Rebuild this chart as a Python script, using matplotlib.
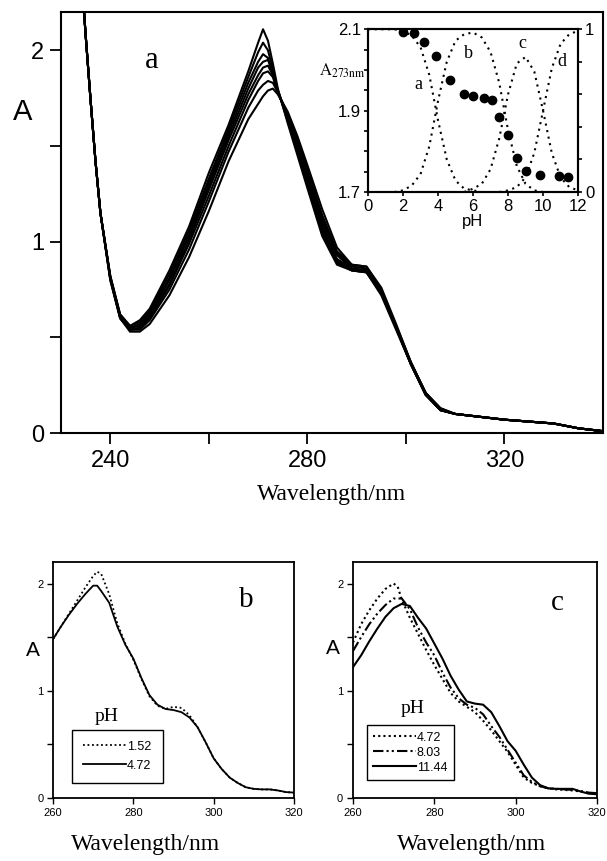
import matplotlib.pyplot as plt

plt.rcParams['font.family'] = 'Liberation Sans'
plt.rcParams['mathtext.fontset'] = 'stix'
SERIF = 'Liberation Serif'

# ---- panel a: spectra over the pH titration ----
wl_a = [233, 234, 235, 236, 237, 238, 240, 242, 244, 246, 248, 252, 256, 260, 264, 268,
        270, 271, 272, 273, 274, 276, 278, 280, 283, 286, 289, 292, 295, 298, 301, 304,
        307, 310, 315, 320, 325, 330, 335, 340]
spec_1 = [2.75, 2.45, 2.08, 1.74, 1.42, 1.15, 0.82, 0.62, 0.56, 0.59, 0.65, 0.85, 1.08, 1.36, 1.61, 1.89,
          2.04, 2.11, 2.05, 1.93, 1.80, 1.62, 1.45, 1.28, 1.03, 0.88, 0.85, 0.84, 0.72, 0.54, 0.36, 0.20,
          0.12, 0.10, 0.085, 0.07, 0.06, 0.05, 0.025, 0.01]
spec_2 = [2.75, 2.45, 2.08, 1.74, 1.42, 1.15, 0.82, 0.62, 0.56, 0.58, 0.64, 0.83, 1.06, 1.33, 1.59, 1.86,
          1.99, 2.04, 2.00, 1.90, 1.79, 1.63, 1.47, 1.30, 1.05, 0.89, 0.85, 0.84, 0.73, 0.55, 0.36, 0.20,
          0.12, 0.10, 0.085, 0.07, 0.06, 0.05, 0.025, 0.01]
spec_3 = [2.75, 2.45, 2.08, 1.74, 1.42, 1.15, 0.82, 0.61, 0.55, 0.57, 0.63, 0.81, 1.04, 1.31, 1.57, 1.83,
          1.94, 1.98, 1.96, 1.88, 1.79, 1.64, 1.48, 1.32, 1.07, 0.90, 0.85, 0.84, 0.73, 0.55, 0.36, 0.20,
          0.12, 0.10, 0.085, 0.07, 0.06, 0.05, 0.025, 0.01]
spec_4 = [2.75, 2.45, 2.08, 1.74, 1.42, 1.15, 0.81, 0.61, 0.55, 0.56, 0.62, 0.80, 1.03, 1.29, 1.55, 1.80,
          1.91, 1.94, 1.95, 1.88, 1.79, 1.65, 1.49, 1.33, 1.08, 0.91, 0.86, 0.85, 0.74, 0.55, 0.36, 0.20,
          0.12, 0.10, 0.085, 0.07, 0.06, 0.05, 0.025, 0.01]
spec_5 = [2.75, 2.45, 2.08, 1.74, 1.42, 1.15, 0.81, 0.61, 0.54, 0.55, 0.61, 0.78, 1.01, 1.27, 1.53, 1.77,
          1.87, 1.91, 1.92, 1.87, 1.78, 1.66, 1.51, 1.35, 1.10, 0.93, 0.86, 0.85, 0.74, 0.56, 0.36, 0.21,
          0.12, 0.10, 0.085, 0.07, 0.06, 0.05, 0.025, 0.01]
spec_6 = [2.75, 2.45, 2.08, 1.74, 1.42, 1.15, 0.81, 0.60, 0.54, 0.55, 0.60, 0.77, 0.99, 1.24, 1.50, 1.74,
          1.84, 1.88, 1.89, 1.86, 1.78, 1.66, 1.52, 1.36, 1.12, 0.94, 0.87, 0.86, 0.75, 0.56, 0.37, 0.21,
          0.12, 0.10, 0.085, 0.07, 0.06, 0.05, 0.025, 0.01]
spec_7 = [2.75, 2.45, 2.08, 1.74, 1.42, 1.15, 0.80, 0.60, 0.54, 0.54, 0.59, 0.75, 0.96, 1.21, 1.47, 1.70,
          1.79, 1.82, 1.84, 1.83, 1.78, 1.67, 1.54, 1.38, 1.14, 0.95, 0.88, 0.87, 0.75, 0.56, 0.37, 0.21,
          0.13, 0.10, 0.085, 0.07, 0.06, 0.05, 0.025, 0.01]
spec_8 = [2.75, 2.45, 2.08, 1.74, 1.42, 1.15, 0.80, 0.60, 0.53, 0.53, 0.57, 0.72, 0.92, 1.16, 1.42, 1.64,
          1.72, 1.76, 1.79, 1.80, 1.77, 1.68, 1.55, 1.40, 1.17, 0.97, 0.88, 0.87, 0.76, 0.57, 0.37, 0.21,
          0.13, 0.10, 0.085, 0.07, 0.06, 0.05, 0.025, 0.01]

# ---- inset: A273 vs pH and species fractions ----
ph_pts = [2.0, 2.6, 3.2, 3.9, 4.7, 5.5, 6.0, 6.6, 7.1, 7.5, 8.0, 8.5, 9.0, 9.8, 10.9, 11.4]
a273 = [2.093, 2.092, 2.069, 2.034, 1.975, 1.942, 1.936, 1.931, 1.926, 1.885, 1.840, 1.783,
        1.752, 1.743, 1.739, 1.736]

ph_a = [0, 0.5, 1, 1.5, 2, 2.5, 3, 3.5, 4, 4.5, 5, 5.5, 6, 6.5]
frac_a = [1.0, 1.0, 1.0, 1.0, 0.99, 0.96, 0.89, 0.72, 0.44, 0.20, 0.07, 0.02, 0.01, 0.0]
ph_b = [1.5, 2, 2.5, 3, 3.5, 4, 4.5, 5, 5.5, 6, 6.5, 7, 7.5, 8, 8.5, 9, 9.5, 10]
frac_b = [0.0, 0.01, 0.04, 0.11, 0.28, 0.56, 0.80, 0.93, 0.97, 0.98, 0.95, 0.86, 0.67, 0.38,
          0.16, 0.05, 0.01, 0.0]
ph_c = [5.5, 6, 6.5, 7, 7.5, 8, 8.5, 9, 9.5, 10, 10.5, 11, 11.5, 12]
frac_c = [0.0, 0.02, 0.05, 0.14, 0.33, 0.60, 0.79, 0.83, 0.74, 0.50, 0.24, 0.09, 0.03, 0.01]
ph_d = [7.5, 8, 8.5, 9, 9.5, 10, 10.5, 11, 11.5, 12]
frac_d = [0.0, 0.01, 0.03, 0.09, 0.24, 0.50, 0.76, 0.91, 0.97, 0.99]

# ---- panels b and c ----
wl_bc = [260, 262, 264, 266, 268, 270, 271, 272, 274, 276, 278, 280, 282, 284, 286, 288,
         290, 292, 294, 296, 298, 300, 302, 304, 306, 308, 310, 312, 314, 316, 318, 320]
b_ph152 = [1.48, 1.60, 1.72, 1.84, 1.96, 2.07, 2.11, 2.09, 1.90, 1.63, 1.44, 1.29, 1.11, 0.95, 0.86, 0.83,
           0.85, 0.84, 0.77, 0.66, 0.52, 0.37, 0.27, 0.19, 0.14, 0.10, 0.085, 0.08, 0.08, 0.07, 0.055, 0.05]
b_ph472 = [1.48, 1.60, 1.71, 1.81, 1.90, 1.98, 1.98, 1.93, 1.82, 1.60, 1.43, 1.30, 1.12, 0.96, 0.87, 0.83,
           0.82, 0.80, 0.75, 0.66, 0.52, 0.37, 0.27, 0.19, 0.14, 0.10, 0.085, 0.08, 0.08, 0.07, 0.055, 0.05]
c_ph472 = [1.45, 1.62, 1.75, 1.86, 1.95, 2.00, 1.97, 1.85, 1.68, 1.53, 1.38, 1.24, 1.11, 0.98, 0.90, 0.85,
           0.80, 0.72, 0.63, 0.53, 0.43, 0.31, 0.19, 0.14, 0.11, 0.09, 0.08, 0.075, 0.07, 0.06, 0.045, 0.04]
c_ph803 = [1.37, 1.50, 1.62, 1.72, 1.80, 1.86, 1.86, 1.86, 1.76, 1.59, 1.45, 1.33, 1.17, 1.03, 0.93, 0.87,
           0.84, 0.78, 0.67, 0.57, 0.45, 0.33, 0.21, 0.15, 0.11, 0.09, 0.085, 0.08, 0.075, 0.065, 0.05, 0.045]
c_ph1144 = [1.22, 1.33, 1.46, 1.58, 1.69, 1.77, 1.79, 1.81, 1.79, 1.68, 1.58, 1.44, 1.30, 1.14, 1.01, 0.90,
            0.88, 0.87, 0.80, 0.67, 0.53, 0.44, 0.31, 0.19, 0.12, 0.09, 0.085, 0.085, 0.085, 0.06, 0.04, 0.035]

fig = plt.figure(figsize=(6.07, 8.61), dpi=100)

# main panel a
ax = fig.add_axes([0.1005, 0.497, 0.893, 0.489])
for s in [spec_1, spec_2, spec_3, spec_4, spec_5, spec_6, spec_7, spec_8]:
    ax.plot(wl_a, s, color='black', lw=1.5)
ax.set_xlim(230, 340)
ax.set_ylim(0, 2.2)
ax.set_xticks([240, 260, 280, 300, 320])
ax.set_xticklabels(['240', '', '280', '', '320'])
ax.set_yticks([0, 0.5, 1, 1.5, 2])
ax.set_yticklabels(['0', '', '1', '', '2'])
ax.tick_params(direction='out', length=8, width=1.3, labelsize=17, pad=4)
for sp in ax.spines.values():
    sp.set_linewidth(1.5)
ax.text(0.168, 0.886, 'a', transform=ax.transAxes, family=SERIF, fontsize=22,
        ha='center', va='center')
fig.text(0.038, 0.87, 'A', fontsize=21, ha='center', va='center')
fig.text(0.547, 0.426, 'Wavelength/nm', family=SERIF, fontsize=17, ha='center', va='center')

# inset
axi = fig.add_axes([0.6063, 0.777, 0.346, 0.189])
axi.plot(ph_pts, a273, 'o', color='black', ms=6)
axi.set_xlim(0, 12)
axi.set_ylim(1.7, 2.1)
axi.set_xticks([0, 2, 4, 6, 8, 10, 12])
axi.set_yticks([1.7, 1.75, 1.8, 1.85, 1.9, 1.95, 2.0, 2.05, 2.1])
axi.set_yticklabels(['1.7', '', '', '', '1.9', '', '', '', '2.1'])
axi.tick_params(direction='out', length=3, width=1.2, labelsize=12, pad=2)
axi.set_xlabel('pH', fontsize=12, labelpad=0)
axr = axi.twinx()
dot = (0, (1, 2.2))
axr.plot(ph_a, frac_a, color='black', lw=1.5, ls=dot)
axr.plot(ph_b, frac_b, color='black', lw=1.5, ls=dot)
axr.plot(ph_c, frac_c, color='black', lw=1.5, ls=dot)
axr.plot(ph_d, frac_d, color='black', lw=1.5, ls=dot)
axr.set_ylim(0, 1)
axr.set_yticks([0, 0.2, 0.4, 0.6, 0.8, 1])
axr.set_yticklabels(['0', '', '', '', '', '1'])
axr.tick_params(direction='out', length=3, width=1.2, labelsize=12, pad=2)
for a_ in (axi, axr):
    for sp in a_.spines.values():
        sp.set_linewidth(1.5)
for lab, x, y in [('a', 2.9, 0.66), ('b', 5.75, 0.85), ('c', 8.8, 0.91), ('d', 11.1, 0.80)]:
    axr.text(x, y, lab, family=SERIF, fontsize=13, ha='center', va='center')
fig.text(0.603, 0.9175, r'$\mathrm{A}_{\mathrm{273nm}}$', fontsize=12, ha='right', va='center')

# panels b and c
axb = fig.add_axes([0.0873, 0.0732, 0.397, 0.274])
axc = fig.add_axes([0.5815, 0.0732, 0.402, 0.274])

axb.plot(wl_bc, b_ph152, color='black', lw=1.3, ls=(0, (1, 1.5)), label='1.52')
axb.plot(wl_bc, b_ph472, color='black', lw=1.3, label='4.72')

axc.plot(wl_bc, c_ph472, color='black', lw=1.5, ls=(0, (1, 1.5)), label='4.72')
axc.plot(wl_bc, c_ph803, color='black', lw=1.5, ls=(0, (5, 1.5, 1, 1.5, 1, 1.5)), label='8.03')
axc.plot(wl_bc, c_ph1144, color='black', lw=1.5, label='11.44')

panels = [(axb, 'b', 0.80, 0.84, 0.224, 0.31, (0.079, 0.064), 0.9, 0.55),
          (axc, 'c', 0.836, 0.826, 0.246, 0.345, (0.057, 0.076), 0.5, 0.25)]
for a_, lbl, lx, ly, px, py, leg_xy, bpad, lspace in panels:
    a_.set_xlim(260, 320)
    a_.set_ylim(0, 2.2)
    a_.set_xticks([260, 280, 300, 320])
    a_.set_yticks([0, 0.5, 1, 1.5, 2])
    a_.set_yticklabels(['0', '', '1', '', '2'])
    a_.tick_params(direction='out', length=4, width=1.0, labelsize=8, pad=3)
    for sp in a_.spines.values():
        sp.set_linewidth(1.3)
    a_.text(lx, ly, lbl, transform=a_.transAxes, family=SERIF, fontsize=21,
            ha='center', va='center')
    a_.text(px, py, 'pH', transform=a_.transAxes, family=SERIF, fontsize=14,
            ha='center', va='bottom')
    leg = a_.legend(loc='lower left', bbox_to_anchor=leg_xy, borderaxespad=0, fontsize=9,
                    handlelength=3.4, handletextpad=0.1, borderpad=bpad, labelspacing=lspace,
                    fancybox=False, edgecolor='black', framealpha=1)
    leg.get_frame().set_linewidth(1.0)

fig.text(0.054, 0.245, 'A', fontsize=15, ha='center', va='center')
fig.text(0.549, 0.247, 'A', fontsize=15, ha='center', va='center')
fig.text(0.24, 0.019, 'Wavelength/nm', family=SERIF, fontsize=17, ha='center', va='center')
fig.text(0.776, 0.019, 'Wavelength/nm', family=SERIF, fontsize=17, ha='center', va='center')

fig.savefig('out.png', dpi=100)
